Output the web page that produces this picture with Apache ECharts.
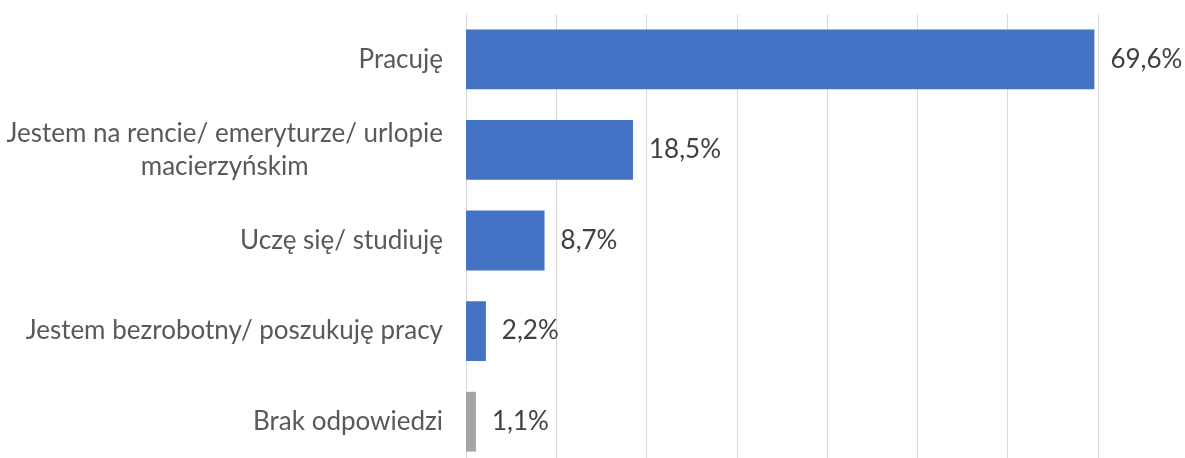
<!DOCTYPE html>
<html><head><meta charset="utf-8">
<script src="https://cdn.jsdelivr.net/npm/echarts@6/dist/echarts.min.js"></script>
<style>html,body{margin:0;padding:0;background:#fff}#c{width:1185px;height:458px}</style>
</head><body><div id="c"></div>
<script>
const categories = ['Pracuję', 'Jestem na rencie/ emeryturze/ urlopie\nmacierzyńskim', 'Uczę się/ studiuję', 'Jestem bezrobotny/ poszukuję pracy', 'Brak odpowiedzi'];
const values = [69.6, 18.5, 8.7, 2.2, 1.1];
const barColors = ['#4472C4', '#4472C4', '#4472C4', '#4472C4', '#A5A5A5'];
const xTicks = [0, 10, 20, 30, 40, 50, 60, 70];

const chart = echarts.init(document.getElementById('c'));
chart.setOption({
  animation: false,
  grid: { left: 466, width: 632, top: 14, height: 453, containLabel: false, outerBoundsMode: 'none' },
  xAxis: {
    type: 'value', min: xTicks[0], max: xTicks[xTicks.length - 1], interval: 10,
    axisLabel: { show: false }, axisLine: { show: false }, axisTick: { show: false },
    splitLine: { lineStyle: { color: '#D9D9D9', width: 1 } }
  },
  yAxis: {
    type: 'category', data: categories, inverse: true,
    axisLine: { show: true, lineStyle: { color: '#D9D9D9' } }, axisTick: { show: false },
    axisLabel: {
      margin: 23, color: '#595959', fontFamily: 'Lato', fontSize: 26, lineHeight: 33,
      formatter: function (v) { return v.split('\n').map(s => '{c|' + s + '}').join('\n'); },
      rich: { c: { align: 'center', color: '#595959', fontFamily: 'Lato', fontSize: 26, lineHeight: 33 } }
    }
  },
  series: [{
    type: 'bar', barWidth: '66%',
    data: values.map((v, i) => ({ value: v, itemStyle: { color: barColors[i] } })),
    label: {
      show: true, position: 'right', distance: 16, color: '#404040', fontFamily: 'Lato', fontSize: 26,
      formatter: p => p.value.toFixed(1).replace('.', ',') + '%'
    }
  }]
});
</script></body></html>
